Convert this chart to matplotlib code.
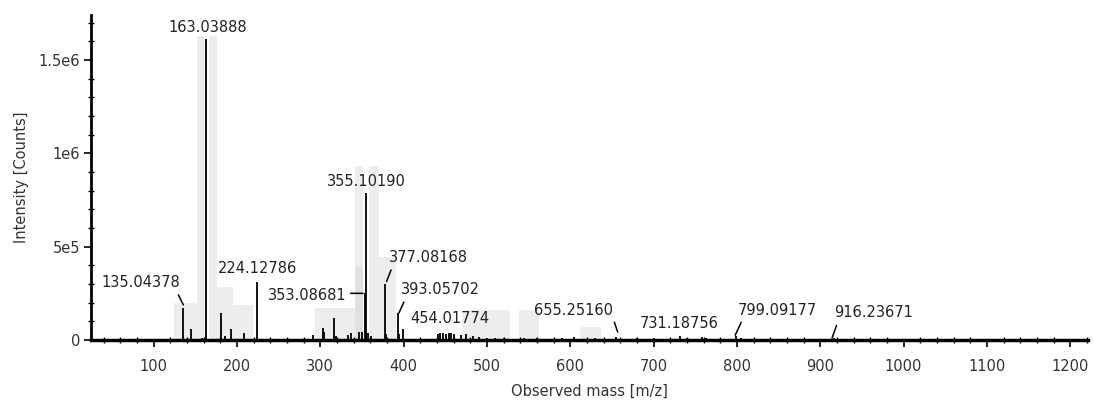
import matplotlib
matplotlib.use('Agg')
import matplotlib.pyplot as plt
import matplotlib.transforms as mtransforms
from matplotlib.ticker import MultipleLocator, FuncFormatter

# ---- data -------------------------------------------------------------
peak_mz = [135.04378, 145.0, 158.0, 163.03888, 180.5, 186.0, 193.0, 208.0,
           224.12786, 291.0, 303.0, 305.0, 316.5, 319.0, 333.0, 336.5, 347.0,
           349.5, 353.08681, 355.10190, 357.0, 361.0, 377.08168, 379.0,
           393.05702, 395.0, 399.5, 441.0, 444.0, 447.0, 451.0, 454.01774,
           457.0, 461.0, 469.0, 475.0, 483.0, 491.0, 500.0, 510.0, 520.0,
           545.0, 560.0, 590.0, 605.0, 630.0, 655.25160, 680.0, 700.0,
           731.18756, 740.0, 758.0, 763.0, 799.09177, 805.0, 916.23671]
peak_intensity = [0.172e6, 0.058e6, 0.010e6, 1.61e6, 0.146e6, 0.020e6, 0.058e6,
                  0.037e6, 0.312e6, 0.027e6, 0.064e6, 0.045e6, 0.117e6, 0.020e6,
                  0.027e6, 0.040e6, 0.045e6, 0.045e6, 0.250e6, 0.789e6, 0.040e6,
                  0.020e6, 0.300e6, 0.030e6, 0.144e6, 0.030e6, 0.058e6, 0.030e6,
                  0.035e6, 0.040e6, 0.030e6, 0.040e6, 0.035e6, 0.030e6, 0.025e6,
                  0.030e6, 0.020e6, 0.015e6, 0.012e6, 0.010e6, 0.010e6, 0.012e6,
                  0.010e6, 0.012e6, 0.015e6, 0.010e6, 0.015e6, 0.012e6, 0.010e6,
                  0.020e6, 0.010e6, 0.015e6, 0.012e6, 0.020e6, 0.010e6, 0.010e6]

band_left = [125.0, 152.0, 166.0, 171.5, 187.5, 293.5, 342.0, 358.0, 366.0,
             470.0, 539.0, 612.0]
band_right = [155.5, 160.0, 176.0, 195.5, 219.5, 341.5, 351.0, 371.0, 391.0,
              528.0, 563.0, 637.0]
band_height = [0.20e6, 1.63e6, 1.63e6, 0.286e6, 0.188e6, 0.17e6, 0.93e6,
               0.93e6, 0.445e6, 0.16e6, 0.16e6, 0.07e6]
dark_band_left = [342.0]
dark_band_right = [351.0]
dark_band_height = [0.39e6]

label_mz = [135.04378, 163.03888, 224.12786, 353.08681, 355.10190, 377.08168,
            393.05702, 454.01774, 655.25160, 731.18756, 799.09177, 916.23671]

x_label = "Observed mass [m/z]"
y_label = "Intensity [Counts]"

# ---- styles (pixel offsets from peak top: text centre, leader start, leader end)
text_off = [(-42, 25), (2, 12), (0, 13), (-57, -2), (0, 11), (44, 26),
            (43, 24), (1, 14), (-43, 27), (0, 13), (41, 26), (40, 26)]
leader = [((-4.5, 13), (0.5, 3)), None, None, ((-14, 0), (-1.5, 0)), None,
          ((6.5, 14), (2, 2.5)), ((6, 11), (1, 0)), None,
          ((-2, 15), (1.4, 5)), None, ((5, 14), (-1, 1)), ((2.7, 12.6), (-1.8, 0))]

FS = 10.5
plt.rcParams['font.family'] = ['DejaVu Sans']

fig = plt.figure(figsize=(10.94, 4.05), dpi=100)
ax = fig.add_axes([91 / 1094, 65 / 405, (1088 - 91) / 1094, (340 - 15) / 405])

ax.bar(band_left, band_height, width=[r - l for l, r in zip(band_left, band_right)],
       align='edge', color='#ededed', edgecolor='none', zorder=1)
ax.bar(dark_band_left, dark_band_height,
       width=[r - l for l, r in zip(dark_band_left, dark_band_right)],
       align='edge', color='#e0e0e0', edgecolor='none', zorder=1)

ax.vlines(peak_mz, 0, peak_intensity, color='black', lw=1.3, zorder=3)

intens = dict(zip(peak_mz, peak_intensity))
for i, m in enumerate(label_mz):
    top = intens[m]
    tx, ty = text_off[i]
    ax.annotate(f"{m:.5f}", xy=(m, top), xytext=(tx, ty), textcoords='offset pixels',
                ha='center', va='center', fontsize=FS, color='#222222', zorder=4)
    if leader[i] is not None:
        (sx, sy), (ex, ey) = leader[i]
        tr = mtransforms.offset_copy(ax.transData, fig=fig, x=ex, y=ey, units='dots')
        ax.annotate('', xy=(m, top), xycoords=tr, xytext=(sx - ex, sy - ey),
                    textcoords='offset pixels',
                    arrowprops=dict(arrowstyle='-', lw=1.1, color='black',
                                    shrinkA=0, shrinkB=0), zorder=4)

ax.set_xlim(24.8, 1221.3)
ax.set_ylim(0, 1.741e6)

for s in ['top', 'right']:
    ax.spines[s].set_visible(False)
ax.spines['left'].set_linewidth(2)
ax.spines['bottom'].set_linewidth(2.5)

ax.xaxis.set_major_locator(MultipleLocator(100))
ax.xaxis.set_minor_locator(MultipleLocator(20))
ax.yaxis.set_major_locator(MultipleLocator(5e5))
ax.yaxis.set_minor_locator(MultipleLocator(1e5))


def yfmt(v, _):
    if v == 0:
        return '0'
    mant, exp = f"{v:.1e}".split('e')
    if mant.endswith('.0'):
        mant = mant[:-2]
    return f"{mant}e{int(exp)}"


ax.yaxis.set_major_formatter(FuncFormatter(yfmt))
ax.tick_params(axis='x', which='major', direction='out', length=5, width=1.2,
               pad=8.5, labelsize=FS, colors='black', labelcolor='#333333')
ax.tick_params(axis='x', which='minor', direction='inout', length=4, width=1)
ax.tick_params(axis='y', which='major', direction='out', length=5, width=1.2,
               pad=3, labelsize=FS, labelcolor='#333333')
ax.tick_params(axis='y', which='minor', direction='inout', length=4, width=1)

ax.set_xlabel(x_label, fontsize=FS, color='#333333', labelpad=7.5)
ax.set_ylabel(y_label, fontsize=FS, color='#333333', labelpad=7)

fig.savefig('out.png', dpi=100)
